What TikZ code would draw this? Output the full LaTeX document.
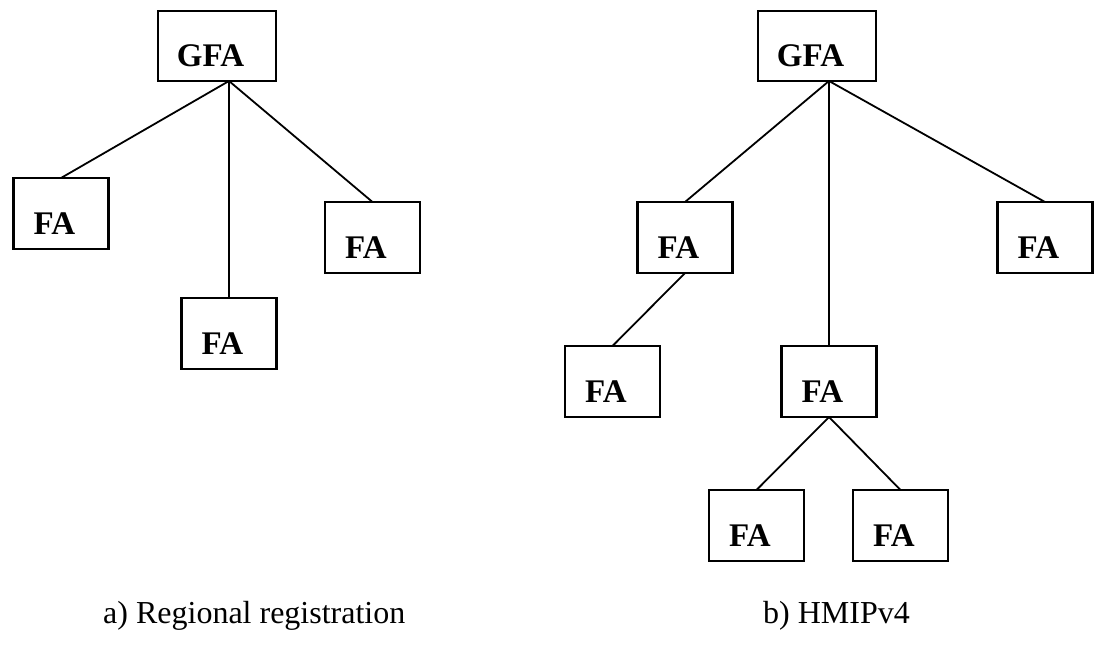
\documentclass[tikz,border=0pt]{standalone}
\usepackage{fontspec}
\setmainfont{Liberation Serif}
\begin{document}
\begin{tikzpicture}[x=1pt,y=-1pt,
  fabox/.style={draw=black, line width=2.2pt, inner sep=0pt, outer sep=0pt, minimum width=95pt, minimum height=71pt},
  gfabox/.style={fabox, minimum width=118pt, minimum height=70pt},
  lbl/.style={inner sep=0pt, anchor=base, font=\fontsize{33}{38}\selectfont\bfseries},
  captext/.style={inner sep=0pt, anchor=base west, font=\fontsize{32}{38}\selectfont},
  conn/.style={draw=black, line width=1.8pt}]
\useasboundingbox (0,0) rectangle (1099,647);

% a) Regional registration
\node[gfabox] (gA) at (217,46) {};
\node[fabox] (a1) at (61,213.5) {};
\node[fabox] (a2) at (229,333.5) {};
\node[fabox] (a3) at (372.5,237.5) {};
\foreach \n/\t in {gA/GFA,a1/FA,a2/FA,a3/FA}
  \node[lbl] (t\n) at ([xshift=-6.5pt,yshift=-21pt]\n.center) {\t};
\coordinate (gAc) at ([xshift=12pt]gA.south);
\draw[conn] (gAc) -- (a1.north);
\draw[conn] (gAc) -- (a2.north);
\draw[conn] (gAc) -- (a3.north);

% b) HMIPv4
\node[gfabox] (gB) at (817,46) {};
\node[fabox] (b1) at (685,237.5) {};
\node[fabox] (b2) at (1045,237.5) {};
\node[fabox] (b3) at (612.5,381.5) {};
\node[fabox] (b4) at (829,381.5) {};
\node[fabox] (b5) at (756.5,525.5) {};
\node[fabox] (b6) at (900.5,525.5) {};
\foreach \n/\t in {gB/GFA,b1/FA,b2/FA,b3/FA,b4/FA,b5/FA,b6/FA}
  \node[lbl] (t\n) at ([xshift=-6.5pt,yshift=-21pt]\n.center) {\t};
\coordinate (gBc) at ([xshift=12pt]gB.south);
\draw[conn] (gBc) -- (b1.north);
\draw[conn] (gBc) -- (b4.north);
\draw[conn] (gBc) -- (b2.north);
\draw[conn] (b1.south) -- (b3.north);
\draw[conn] (b4.south) -- (b5.north);
\draw[conn] (b4.south) -- (b6.north);

% captions
\node[captext] (capA) at (103,623) {a) Regional registration};
\node[captext] (capB) at (763,623) {b) HMIPv4};
\end{tikzpicture}
\end{document}
